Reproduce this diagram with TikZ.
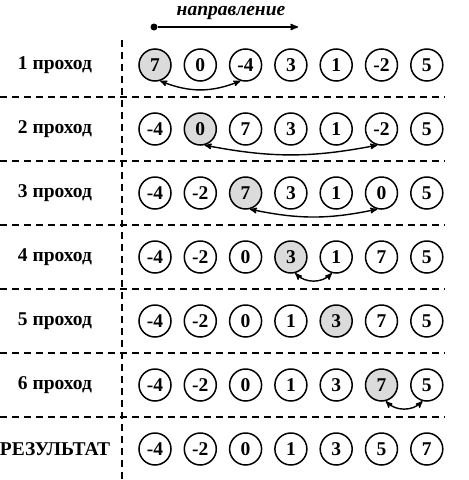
\documentclass[tikz,border=0pt]{standalone}
\usepackage{fontspec}
\setmainfont{Liberation Serif}
\usetikzlibrary{arrows, positioning, calc}

\begin{document}
\begin{tikzpicture}[
    x=1pt, y=-1pt,
    >=stealth',
    every node/.style={font=\bfseries\fontsize{19.5}{22}\selectfont},
    num/.style={circle, draw, line width=1.5pt, minimum size=32pt, inner sep=0pt},
    cur/.style={num, fill=gray!28},
    lbl/.style={anchor=center},
    sep/.style={line width=1.7pt, dash pattern=on 7pt off 5pt},
    swap/.style={<->, line width=1.4pt}
]
\useasboundingbox (0,0) rectangle (469,480);

% Direction
\node[circle, fill, inner sep=0pt, minimum size=7pt] (start) at (154,27) {};
\coordinate (dirend) at (298,27);
\draw[->, line width=1.6pt] (start) -- (dirend);
\node[font=\bfseries\itshape\fontsize{19.5}{22}\selectfont] (dir) at (231,13) {направление};

% Rows
\foreach \vals [count=\r] in {{7,0,-4,3,1,-2,5},{-4,0,7,3,1,-2,5},{-4,-2,7,3,1,0,5},
    {-4,-2,0,3,1,7,5},{-4,-2,0,1,3,7,5},{-4,-2,0,1,3,7,5},{-4,-2,0,1,3,5,7}} {
  \foreach \v [count=\c] in \vals {
    \def\sty{num}\ifnum\c=\r\ifnum\r<7 \def\sty{cur}\fi\fi
    \node[\sty] (n\r-\c) at ({155+45.3*(\c-1)}, {65+64*(\r-1)}) {\v};
  }
}

% Labels
\foreach \lab [count=\r] in {1 проход, 2 проход, 3 проход, 4 проход, 5 проход,
    6 проход, РЕЗУЛЬТАТ} {
  \node[lbl] (l\r) at (55, {65+64*(\r-1)}) {\lab};
}

% Separators
\foreach \r in {1,...,6} {
  \draw[sep] (0, {97+64*(\r-1)}) -- (445, {97+64*(\r-1)});
}
\draw[sep] (122,40) -- (122,480);

% Swaps
\draw[swap] (n1-1.-72) to[bend right=22] (n1-3.-108);
\draw[swap] (n2-2.-75) to[bend right=11] (n2-6.-105);
\draw[swap] (n3-3.-75) to[bend right=12] (n3-6.-105);
\draw[swap] (n4-4.-75) to[bend right=45] (n4-5.-105);
\draw[swap] (n6-6.-75) to[bend right=45] (n6-7.-105);

\end{tikzpicture}
\end{document}
